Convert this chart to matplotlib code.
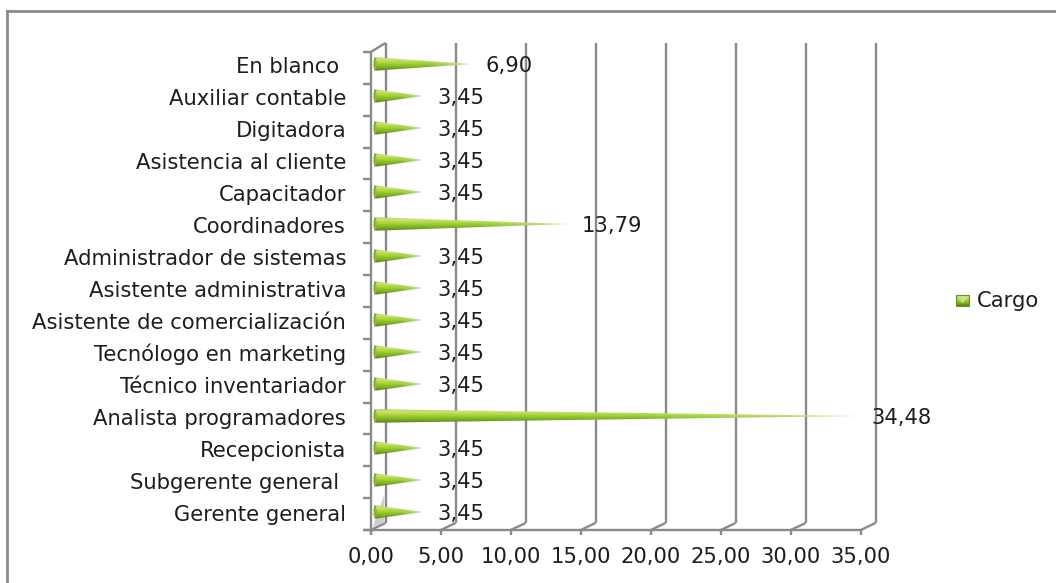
import numpy as np
import matplotlib
matplotlib.use("Agg")
import matplotlib.pyplot as plt
from matplotlib.patches import Polygon, Ellipse, Rectangle

# Job titles (bottom to top) and their share in percent
categories = [
    "Gerente general", "Subgerente general ", "Recepcionista",
    "Analista programadores", "Técnico inventariador", "Tecnólogo en marketing",
    "Asistente de comercialización", "Asistente administrativa",
    "Administrador de sistemas", "Coordinadores", "Capacitador",
    "Asistencia al cliente", "Digitadora", "Auxiliar contable", "En blanco ",
]
values = [3.45, 3.45, 3.45, 34.48, 3.45, 3.45, 3.45, 3.45,
          3.45, 13.79, 3.45, 3.45, 3.45, 3.45, 6.90]
x_ticks = [0, 5, 10, 15, 20, 25, 30, 35]
series_name = "Cargo"

plt.rcParams["font.family"] = ["DejaVu Sans"]
FS = 15.2
TXT = "#1e1e1e"

W, H, DPI = 1056, 583, 100
fig = plt.figure(figsize=(W / DPI, H / DPI), dpi=DPI)
ax = fig.add_axes([0, 0, 1, 1])
ax.axis("off")

# 1 value unit = 14 px, 1 category = 32 px
X0_PX, XS = 375, 14.0
Y0_PX, YS = 512, 32.0
xlim = (-X0_PX / XS, (W - X0_PX) / XS)
ylim = ((Y0_PX - H) / YS, Y0_PX / YS)

n = len(categories)
xmax = x_ticks[-1]
fx, bx = -0.3, 0.75            # front / back plane x shift
floor_f, floor_b = -0.5625, -0.344
top_f, top_b = 14.375, 14.656
grid_c = "#8a8a8a"
glw = 1.7

def line(xs, ys, **kw):
    ax.plot(xs, ys, color=grid_c, lw=glw, solid_capstyle="butt", zorder=2, **kw)

# back wall gridlines and floor diagonals
for t in x_ticks:
    line([t + bx, t + bx], [floor_b, top_b])
    line([t + fx, t + bx], [floor_f, floor_b])
    line([t + fx, t + fx], [floor_f, floor_f - 0.16])
# left wall
line([fx, fx], [floor_f - 0.16, top_f])
line([fx, bx], [top_f, top_b])
# floor front edge
line([-0.857, xmax + fx], [floor_f, floor_f])
# left axis ticks on the front plane
step = (top_f - floor_f) / n
for k in range(n + 1):
    yy = floor_f + k * step
    line([-0.857, fx], [yy, yy])

# light shading at the foot of the left wall
ax.add_patch(Polygon([(fx + 0.12, floor_f + 0.08), (bx - 0.08, floor_b + 0.02),
                      (bx - 0.08, floor_b + 0.9)], closed=True,
                     facecolor="#cfcfcf", edgecolor="none", zorder=2.5))

# cone shading texture
stops_t = [0.0, 0.15, 0.45, 0.78, 1.0]
stops_c = np.array([[0.62, 0.76, 0.30], [0.80, 0.90, 0.45], [0.65, 0.82, 0.25],
                    [0.47, 0.66, 0.13], [0.33, 0.48, 0.08]])
tv = np.linspace(0, 1, 64)
col = np.stack([np.interp(tv, stops_t, stops_c[:, i]) for i in range(3)], axis=1)
sv = np.linspace(0, 1, 256)
fade = np.clip((sv - 0.55) / 0.45, 0, 1) * 0.6
pale = np.array([0.90, 0.95, 0.78])
tex = col[:, None, :] * (1 - fade[None, :, None]) + pale * fade[None, :, None]

h = 0.21
for i, (cat, v) in enumerate(zip(categories, values)):
    tri = Polygon([(0, i + h), (v, i), (0, i - h)], closed=True,
                  facecolor="none", edgecolor="none")
    ax.add_patch(tri)
    im = ax.imshow(tex, extent=[0, v, i - h, i + h], origin="upper",
                   aspect="auto", interpolation="bilinear", zorder=3)
    im.set_clip_path(tri)
    ax.add_patch(Ellipse((0.0, i), 0.22, 2 * h, facecolor="#86b236",
                         edgecolor="none", zorder=4))
    lab = f"{v:.2f}".replace(".", ",")
    ax.annotate(lab, (v, i - 0.05), xytext=(14, 0), textcoords="offset pixels",
                ha="left", va="center", fontsize=FS, color=TXT, zorder=5)
    ax.text(-2.07, i - 0.08, cat, ha="right", va="center", fontsize=FS,
            color=TXT)

# value axis labels
for t in x_ticks:
    ax.text(t + fx, floor_f - 0.84, f"{t:.2f}".replace(".", ","), ha="center",
            va="center", fontsize=FS, color=TXT)

# legend entry
ax.imshow(tex[:, :60], extent=[41.5, 42.43, 6.44, 6.78], origin="upper",
          aspect="auto", zorder=3)
ax.add_patch(Polygon([(41.6, 6.74), (42.33, 6.74), (41.965, 6.52)], closed=True,
                     facecolor="#c9e28a", edgecolor="none", zorder=4))
ax.add_patch(Rectangle((41.5, 6.44), 0.93, 0.34, facecolor="none",
                       edgecolor="#6d8f2a", lw=0.8, zorder=5))
ax.text(43.0, 6.59, series_name, ha="left", va="center", fontsize=FS,
        color=TXT)

ax.set_xlim(*xlim)
ax.set_ylim(*ylim)
ax.set_aspect("auto")

# chart area frame
fig.add_artist(plt.Line2D([7 / W, 7 / W], [0, 1 - 11 / H], transform=fig.transFigure,
                          color="#8a8a8a", lw=2.0))
fig.add_artist(plt.Line2D([7 / W, 1], [1 - 11 / H, 1 - 11 / H], transform=fig.transFigure,
                          color="#8a8a8a", lw=2.0))

fig.savefig("out.png", dpi=DPI)
